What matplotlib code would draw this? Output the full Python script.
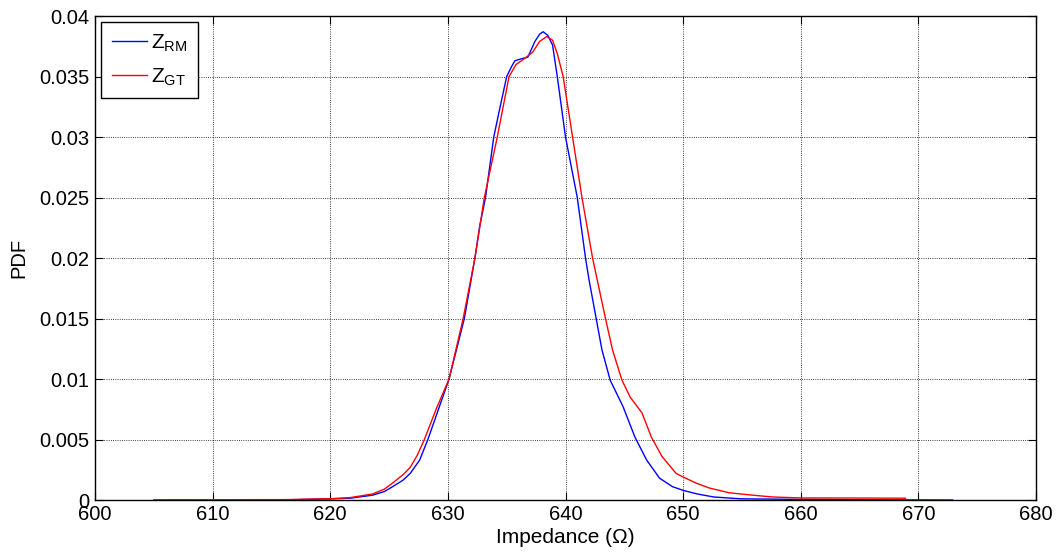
import matplotlib
matplotlib.use('Agg')
import matplotlib.pyplot as plt

plt.rcParams['font.family'] = ['Liberation Sans', 'DejaVu Sans']
plt.rcParams['mathtext.fontset'] = 'custom'
plt.rcParams['mathtext.rm'] = 'Liberation Sans'
plt.rcParams['mathtext.default'] = 'regular'

# values (impedance in ohm, pdf)
z_rm = [615.7, 620.0, 621.7, 623.6, 624.6, 625.3, 626.2, 626.8, 627.6, 628.3,
        629.2, 630.1, 631.4, 632.3, 632.7, 633.2, 633.9, 634.4, 635.0, 635.4,
        635.7, 636.2, 636.8, 637.4, 637.8, 638.1, 638.5, 638.9, 639.3, 640.0,
        641.0, 641.7, 642.0, 643.1, 643.8, 644.9, 645.9, 646.9, 648.0, 649.1,
        650.0, 651.2, 652.6, 654.9, 660.0, 665.0, 672.9]
pdf_rm = [0.0, 0.0001, 0.00015, 0.0004, 0.0007, 0.0011, 0.00165, 0.0022, 0.0033, 0.005,
          0.0075, 0.01, 0.015, 0.02, 0.0226, 0.025, 0.030, 0.0323, 0.035, 0.0358,
          0.0363, 0.03645, 0.0366, 0.0379, 0.0385, 0.0387, 0.0384, 0.0376, 0.035, 0.030,
          0.025, 0.020, 0.0182, 0.0124, 0.0099, 0.0077, 0.0052, 0.0033, 0.0018, 0.0011,
          0.0008, 0.0005, 0.00025, 0.0001, 0.00005, 0.00002, 0.0]

z_gt = [605.0, 616.0, 620.0, 621.7, 623.6, 624.6, 625.3, 626.2, 626.8, 627.4,
        628.0, 629.0, 630.1, 631.3, 632.3, 633.1, 634.2, 635.2, 635.8, 636.4,
        637.2, 637.8, 638.4, 638.9, 639.3, 639.8, 640.6, 641.4, 642.3, 643.4,
        644.0, 644.8, 645.5, 646.5, 647.3, 648.2, 649.4, 650.0, 651.1, 652.2,
        653.9, 655.9, 657.6, 660.0, 662.5, 668.9]
pdf_gt = [0.00002, 0.00003, 0.0001, 0.0002, 0.0005, 0.0009, 0.0014, 0.0021, 0.0027, 0.0037,
          0.005, 0.0075, 0.01, 0.015, 0.020, 0.025, 0.030, 0.035, 0.0360, 0.0364,
          0.0370, 0.0379, 0.0383, 0.0380, 0.0369, 0.035, 0.030, 0.025, 0.020, 0.015,
          0.0124, 0.0099, 0.0085, 0.0072, 0.0052, 0.0036, 0.0022, 0.0019, 0.0014, 0.0010,
          0.0006, 0.0004, 0.00025, 0.00017, 0.00017, 0.00015]

fig = plt.figure(figsize=(10.59, 5.56), dpi=100)
ax = fig.add_axes([0.0897, 0.1007, 0.8886, 0.8705])

ax.plot(z_rm, pdf_rm, color='#0000ff', lw=1.0, label='Z$_{RM}$')
ax.plot(z_gt, pdf_gt, color='#ff0000', lw=1.0, label='Z$_{GT}$')

ax.set_xlim(600, 680)
ax.set_ylim(0, 0.04)
ax.set_xticks(range(600, 681, 10))
ax.set_yticks([0, 0.005, 0.01, 0.015, 0.02, 0.025, 0.03, 0.035, 0.04])
ax.set_yticklabels(['0', '0.005', '0.01', '0.015', '0.02', '0.025', '0.03', '0.035', '0.04'])
ax.tick_params(direction='in', length=6, width=0.8, top=True, right=True,
               labelsize=14.5, colors='k')
ax.tick_params(axis='x', pad=3.5)
ax.tick_params(axis='y', pad=4)
ax.grid(True, color='k', linestyle=':', linewidth=0.6)
for s in ax.spines.values():
    s.set_linewidth(1.0)

ax.set_xlabel('Impedance (\u03a9)', fontsize=15, labelpad=3)
ax.set_ylabel('PDF', fontsize=14.5, labelpad=8)

leg = ax.legend(loc='upper left', fontsize=15, fancybox=False, edgecolor='k',
                framealpha=1, handlelength=1.7, borderaxespad=0.3,
                borderpad=0.5, labelspacing=0.6, handletextpad=0.2)
leg.get_frame().set_linewidth(1.0)

fig.savefig('out.png', dpi=100)
